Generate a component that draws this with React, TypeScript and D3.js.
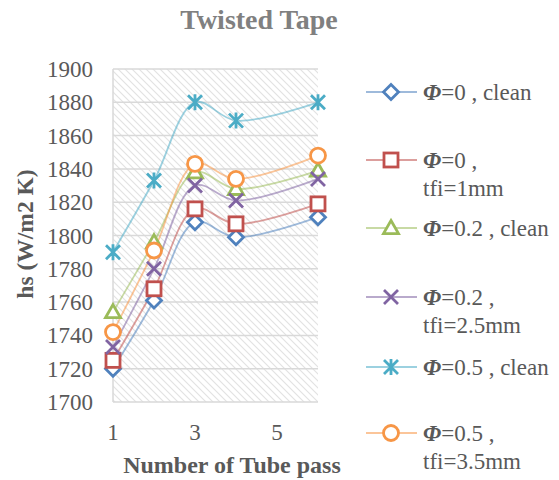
import React from 'react';
import * as d3 from 'd3';

// number of tube passes (no point at 5)
const passes = [1, 2, 3, 4, 6];

const phi0Clean = [1720, 1761, 1808, 1799, 1811];
const phi0Tfi1 = [1725, 1768, 1816, 1807, 1819];
const phi02Clean = [1754, 1796, 1838, 1828, 1839];
const phi02Tfi25 = [1733, 1780, 1830, 1821, 1834];
const phi05Clean = [1790, 1833, 1880, 1869, 1880];
const phi05Tfi35 = [1742, 1791, 1843, 1834, 1848];

const xTicks = [1, 3, 5];
const yTicks = d3.range(1700, 1901, 20);

type Series = { name: string; extra?: string; values: number[]; color: string; marker: string };

const series: Series[] = [
  { name: '=0 , clean', values: phi0Clean, color: '#4F81BD', marker: 'diamond' },
  { name: '=0 ,', extra: 'tfi=1mm', values: phi0Tfi1, color: '#C0504D', marker: 'square' },
  { name: '=0.2 , clean', values: phi02Clean, color: '#9BBB59', marker: 'triangle' },
  { name: '=0.2 ,', extra: 'tfi=2.5mm', values: phi02Tfi25, color: '#8064A2', marker: 'x' },
  { name: '=0.5 , clean', values: phi05Clean, color: '#4BACC6', marker: 'star' },
  { name: '=0.5 ,', extra: 'tfi=3.5mm', values: phi05Tfi35, color: '#F79646', marker: 'circle' },
];

const W = 559;
const H = 480;
const plot = { left: 113, right: 318, top: 69, bottom: 402 };
const textColor = '#595959';
const font = 'Liberation Serif, Times New Roman, serif';

function Marker({ type, x, y, color }: { type: string; x: number; y: number; color: string }) {
  const sw = 2.8;
  const common = { fill: '#fff', stroke: color, strokeWidth: sw };
  if (type === 'diamond') {
    const s = 7.5;
    return <path d={`M${x},${y - s}L${x + s},${y}L${x},${y + s}L${x - s},${y}Z`} {...common} />;
  }
  if (type === 'square') {
    const s = 7;
    return <rect x={x - s} y={y - s} width={2 * s} height={2 * s} {...common} />;
  }
  if (type === 'triangle') {
    const s = 7.5;
    return <path d={`M${x},${y - s}L${x + s},${y + s * 0.75}L${x - s},${y + s * 0.75}Z`} {...common} />;
  }
  if (type === 'circle') return <circle cx={x} cy={y} r={7.5} {...common} />;
  const s = 7;
  if (type === 'x')
    return (
      <path d={`M${x - s},${y - s}L${x + s},${y + s}M${x - s},${y + s}L${x + s},${y - s}`}
        stroke={color} strokeWidth={sw} fill="none" />
    );
  // star: x plus vertical bar
  return (
    <path d={`M${x - s},${y - s}L${x + s},${y + s}M${x - s},${y + s}L${x + s},${y - s}M${x},${y - s - 1}L${x},${y + s + 1}`}
      stroke={color} strokeWidth={sw} fill="none" />
  );
}

export default function App() {
  const x = d3.scaleLinear().domain([1, 6]).range([plot.left, plot.right]);
  const y = d3.scaleLinear().domain([1700, 1900]).range([plot.bottom, plot.top]);

  const line = d3
    .line<number>()
    .x((_, i) => x(passes[i]))
    .y((d) => y(d))
    .curve(d3.curveCatmullRom.alpha(0.5));

  const legendX = 366;
  const legendRows = [92, 160, 228, 297, 367, 433];

  return (
    <div style={{ position: 'absolute', left: 0, top: 0 }}>
      <svg width={W} height={H} style={{ display: 'block' }} fontFamily={font}>
        <defs>
          <pattern id="hatch" patternUnits="userSpaceOnUse" width={7} height={7}>
            <rect width={7} height={7} fill="#fff" />
            <path d="M0,0L7,7M-1,6L1,8M6,-1L8,1" stroke="#e2e2e2" strokeWidth={1.1} />
          </pattern>
        </defs>
        <rect width={W} height={H} fill="#fff" />

        <text x={259} y={29} textAnchor="middle" fontSize={28} fontWeight="bold" fill="#808080">
          Twisted Tape
        </text>

        {/* plot area */}
        <rect x={plot.left} y={plot.top} width={plot.right - plot.left} height={plot.bottom - plot.top}
          fill="url(#hatch)" />
        {yTicks.map((t) => (
          <line key={t} x1={plot.left} x2={plot.right} y1={y(t)} y2={y(t)} stroke="#d9d9d9" strokeWidth={1.5} />
        ))}
        <line x1={plot.left} x2={plot.left} y1={plot.top} y2={plot.bottom} stroke="#d9d9d9" strokeWidth={1.5} />

        {yTicks.map((t) => (
          <text key={t} x={93} y={y(t)} dy="0.35em" textAnchor="end" fontSize={23} fill={textColor}>
            {t}
          </text>
        ))}
        {xTicks.map((t) => (
          <text key={t} x={x(t)} y={440} textAnchor="middle" fontSize={23} fill={textColor}>
            {t}
          </text>
        ))}

        <text x={232} y={473} textAnchor="middle" fontSize={24} fontWeight="bold" fill={textColor}>
          Number of Tube pass
        </text>
        <text transform="translate(33,234) rotate(-90)" textAnchor="middle" fontSize={23.5} fontWeight="bold"
          fill={textColor}>
          hs (W/m2 K)
        </text>

        {/* series */}
        {series.map((s) => (
          <g key={s.name + s.color}>
            <path d={line(s.values) || ''} fill="none" stroke={s.color} strokeOpacity={0.55} strokeWidth={1.8} />
          </g>
        ))}
        {series.map((s) => (
          <g key={'m' + s.color}>
            {s.values.map((v, i) => (
              <Marker key={i} type={s.marker} x={x(passes[i])} y={y(v)} color={s.color} />
            ))}
          </g>
        ))}

        {/* legend */}
        {series.map((s, i) => {
          const ly = legendRows[i];
          return (
            <g key={'l' + s.color}>
              <line x1={legendX} x2={legendX + 51} y1={ly} y2={ly} stroke={s.color} strokeOpacity={0.55} strokeWidth={1.8} />
              <Marker type={s.marker} x={legendX + 25} y={ly} color={s.color} />
              <text x={423} y={ly} dy="0.35em" fontSize={23} fill={textColor}>
                <tspan fontWeight="bold" fontStyle="italic">Φ</tspan>
                {s.name}
              </text>
              {s.extra && (
                <text x={423} y={ly + 28} dy="0.35em" fontSize={23} fill={textColor}>
                  {s.extra}
                </text>
              )}
            </g>
          );
        })}
      </svg>
    </div>
  );
}
